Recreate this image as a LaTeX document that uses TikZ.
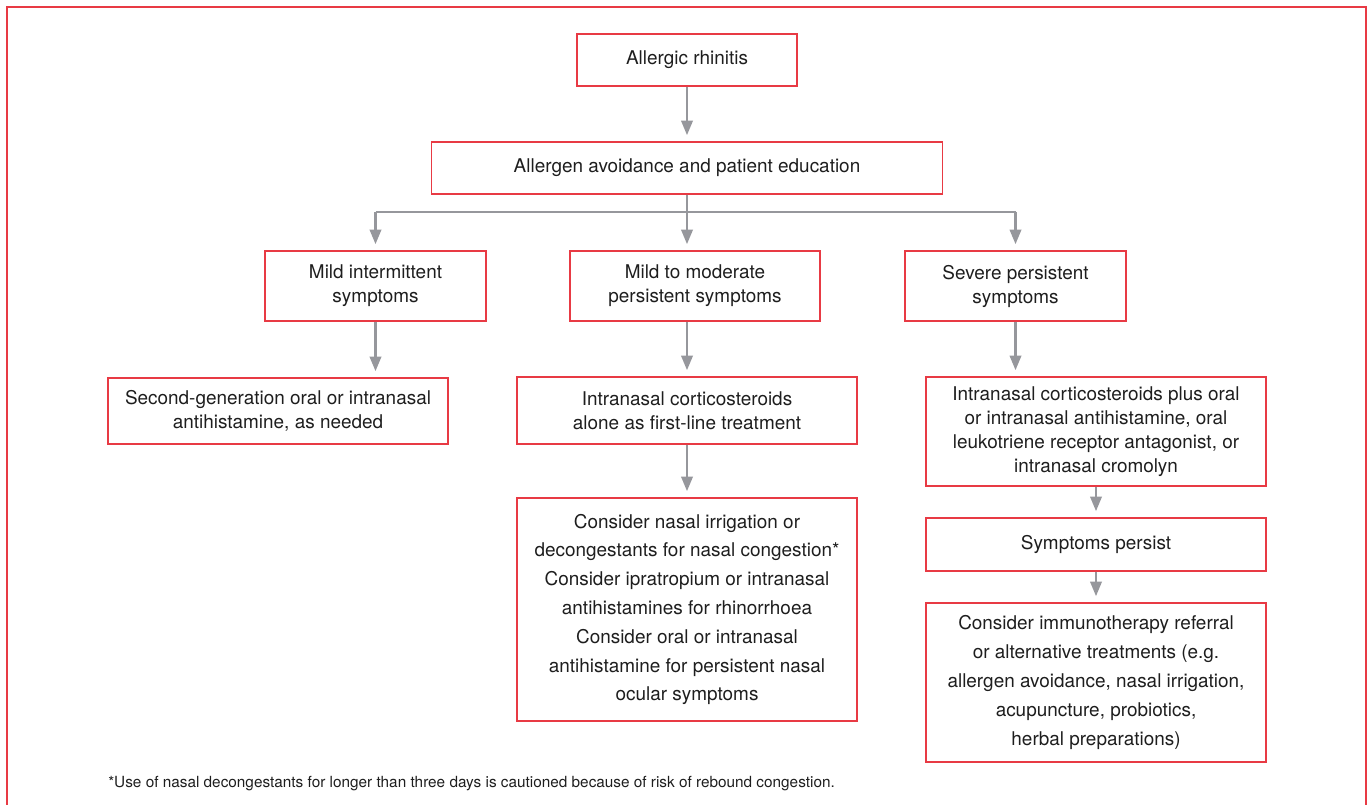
\documentclass[tikz,border=0pt]{standalone}
\usepackage{fontspec}
\setmainfont{TeX Gyre Heros}
\usepackage{xcolor}
\usetikzlibrary{arrows.meta,calc}
\definecolor{boxred}{RGB}{232,58,68}
\definecolor{arrgray}{RGB}{150,151,156}
\definecolor{txt}{RGB}{30,30,30}
\tikzset{>={Triangle[width=8.5pt,length=11pt]}}
\tikzset{
	box/.style={draw=boxred, line width=1.1pt, align=center, inner sep=0pt,
			text=txt, font=\fontsize{14.2}{18}\selectfont},
	tallbox/.style={box, font=\fontsize{14.2}{21.6}\selectfont},
	link/.style={draw=arrgray, line width=2pt},
	arr/.style={link, ->, shorten >=4.5pt}
}

\begin{document}
\begin{tikzpicture}[x=0.75pt, y=-0.75pt]
		\useasboundingbox (0,0) rectangle (1370,805);
		\draw[boxred, line width=1.5pt] (7,805) -- (7,7) -- (1366,7) -- (1366,805);
		% boxes
		\node[box, minimum width=165pt, minimum height=39pt] (rhin) at (687,60) {Allergic rhinitis};
		\node[box, minimum width=383.25pt, minimum height=39pt] (avoid) at (687,168) {Allergen avoidance and patient education};
		\node[box, minimum width=165.75pt, minimum height=52.5pt] (mildint) at (375.5,286) {Mild intermittent\\symptoms};
		\node[box, minimum width=187.5pt, minimum height=52.5pt] (mildmod) at (695,286) {Mild to moderate\\persistent symptoms};
		\node[box, minimum width=165.75pt, minimum height=52.5pt] (severe) at (1015.5,286) {Severe persistent\\symptoms};
		\node[box, minimum width=255pt, minimum height=49.5pt] (secgen) at (278,411) {Second-generation oral or intranasal\\antihistamine, as needed};
		\node[box, minimum width=255pt, minimum height=50.25pt] (incs) at (687,410.5) {Intranasal corticosteroids\\alone as first-line treatment};
		\node[tallbox, minimum width=255pt, minimum height=167.25pt] (consider) at (687,609.5) {Consider nasal irrigation or\\decongestants for nasal congestion*\\Consider ipratropium or intranasal\\antihistamines for rhinorrhoea\\Consider oral or intranasal\\antihistamine for persistent nasal\\ocular symptoms};
		\node[box, minimum width=255pt, minimum height=81.75pt] (incsplus) at (1096,431.5) {Intranasal corticosteroids plus oral\\or intranasal antihistamine, oral\\leukotriene receptor antagonist, or\\intranasal cromolyn};
		\node[box, minimum width=255pt, minimum height=39.75pt] (persist) at (1096,544.5) {Symptoms persist};
		\node[tallbox, minimum width=255pt, minimum height=119.25pt] (immuno) at (1096,682.5) {Consider immunotherapy referral\\or alternative treatments (e.g.\\allergen avoidance, nasal irrigation,\\acupuncture, probiotics,\\herbal preparations)};
		\node[anchor=west, inner sep=0pt, text=txt, font=\fontsize{11.5}{13}\selectfont] (note) at (108,784) {*Use of nasal decongestants for longer than three days is cautioned because of risk of rebound congestion.};
		% connectors
		\coordinate (split) at (687,212);
		\draw[arr] (rhin) -- (avoid);
		\draw[link] (avoid.south) -- (split);
		\draw[link] (mildint.north |- split) -- (severe.north |- split);
		\draw[arr] (mildint.north |- split) -- (mildint.north);
		\draw[arr] (split) -- (split |- mildmod.north);
		\draw[arr] (severe.north |- split) -- (severe.north);
		\draw[arr] (mildint.south) -- (mildint.south |- secgen.north);
		\draw[arr] (incs.north |- mildmod.south) -- (incs.north);
		\draw[arr] (incs) -- (consider);
		\draw[arr] (severe.south) -- (severe.south |- incsplus.north);
		\draw[arr] (incsplus) -- (persist);
		\draw[arr] (persist) -- (immuno);
	\end{tikzpicture}
\end{document}
